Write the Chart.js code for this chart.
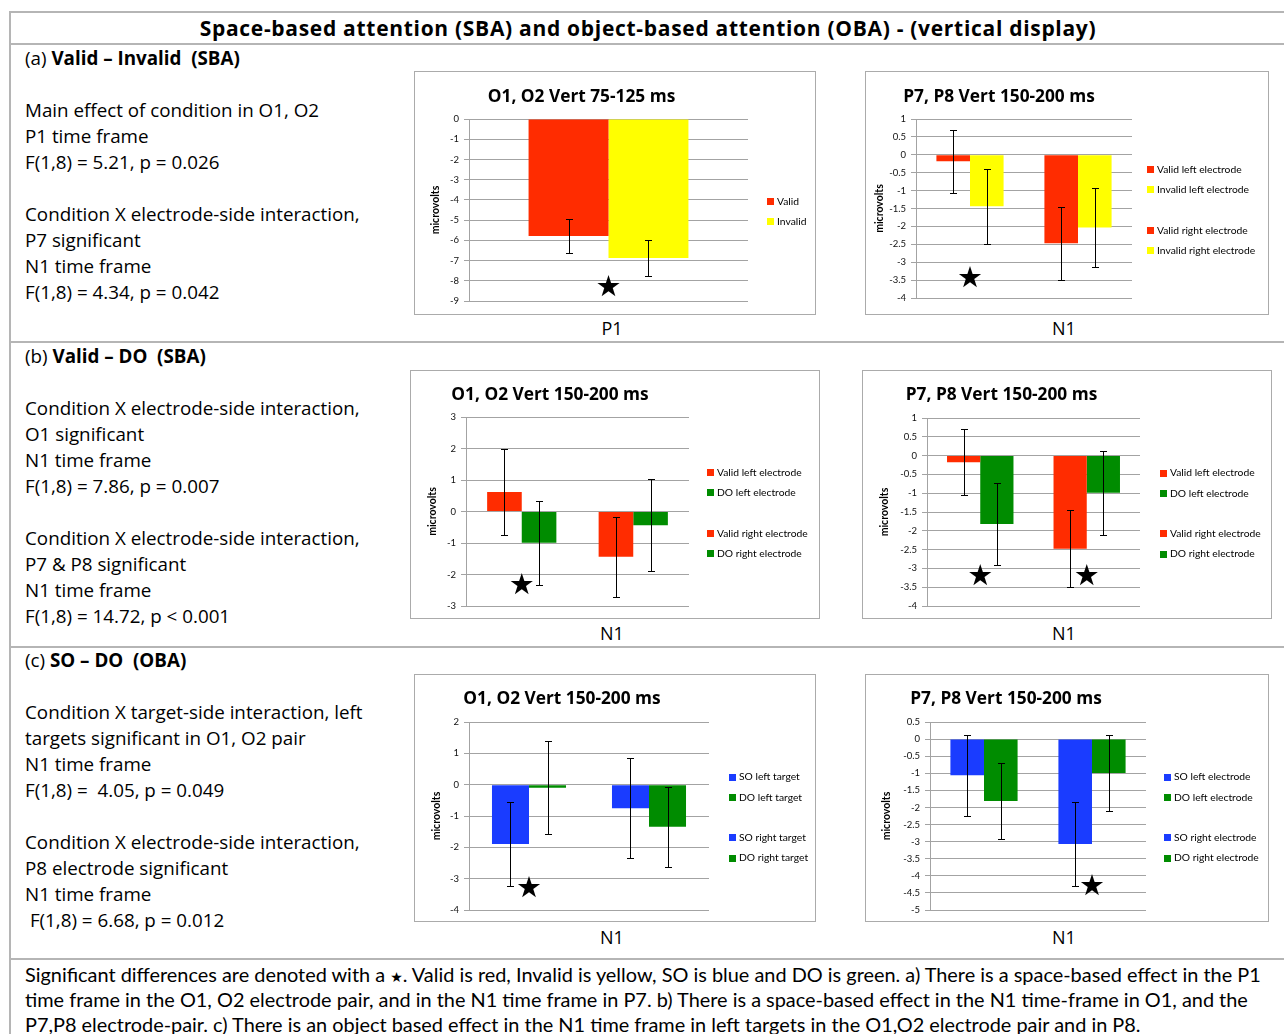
<!DOCTYPE html>
<html>
<head>
<meta charset="utf-8">
<title>Space-based and object-based attention</title>
<script src="https://cdn.jsdelivr.net/npm/chart.js@4.4.1/dist/chart.umd.min.js"></script>
<style>
  body { margin: 0; background: #fff; width: 1284px; height: 1034px; overflow: hidden; position: relative; font-family: "Open Sans", Lato, sans-serif; color: #000; }
  .rule { position: absolute; background: #b5b5b5; }
  .heading { position: absolute; left: 10px; width: 1276px; top: 14px; line-height: 28px; text-align: center; font-family: "Open Sans", sans-serif; font-weight: bold; font-size: 21px; letter-spacing: 0.7px; white-space: pre; }
  .txt { position: absolute; left: 25px; white-space: pre; font-size: 18.8px; line-height: 26px; }
  .caption { position: absolute; left: 25px; top: 962px; white-space: pre; font-family: Lato, sans-serif; font-size: 19.9px; line-height: 25px; }
  .caption .star { font-family: "DejaVu Sans", sans-serif; font-size: 14px; line-height: 0; }
  .box { position: absolute; border: 1px solid #ababab; box-sizing: border-box; }
  .box canvas { position: absolute; left: 0; top: 0; }
  .cat { position: absolute; font-size: 18px; line-height: 20px; transform: translateX(-50%); }
</style>
</head>
<body>
  <div class="rule" style="left:10px;top:11px;width:1274px;height:2px"></div>
  <div class="rule" style="left:10px;top:43px;width:1274px;height:2px"></div>
  <div class="rule" style="left:10px;top:341px;width:1274px;height:2px"></div>
  <div class="rule" style="left:10px;top:646px;width:1274px;height:2px"></div>
  <div class="rule" style="left:10px;top:958px;width:1274px;height:2px"></div>
  <div class="rule" style="left:9px;top:11px;width:2px;height:1023px"></div>

  <div class="heading">Space-based attention (SBA) and object-based attention (OBA) - (vertical display)</div>

  <div class="txt" style="top:45px">(a) <b>Valid – Invalid  (SBA)</b>

Main effect of condition in O1, O2
P1 time frame
F(1,8) = 5.21, p = 0.026

Condition X electrode-side interaction,
P7 significant
N1 time frame
F(1,8) = 4.34, p = 0.042</div>

  <div class="txt" style="top:343px">(b) <b>Valid – DO  (SBA)</b>

Condition X electrode-side interaction,
O1 significant
N1 time frame
F(1,8) = 7.86, p = 0.007

Condition X electrode-side interaction,
P7 &amp; P8 significant
N1 time frame
F(1,8) = 14.72, p &lt; 0.001</div>

  <div class="txt" style="top:647px">(c) <b>SO – DO  (OBA)</b>

Condition X target-side interaction, left
targets significant in O1, O2 pair
N1 time frame
F(1,8) =  4.05, p = 0.049

Condition X electrode-side interaction,
P8 electrode significant
N1 time frame
 F(1,8) = 6.68, p = 0.012</div>

  <div class="box" id="a1"><canvas></canvas></div>
  <div class="box" id="a2"><canvas></canvas></div>
  <div class="box" id="b1"><canvas></canvas></div>
  <div class="box" id="b2"><canvas></canvas></div>
  <div class="box" id="c1"><canvas></canvas></div>
  <div class="box" id="c2"><canvas></canvas></div>

  <div class="cat" style="left:612px;top:318px">P1</div>
  <div class="cat" style="left:1064px;top:318px">N1</div>
  <div class="cat" style="left:612px;top:623px">N1</div>
  <div class="cat" style="left:1064px;top:623px">N1</div>
  <div class="cat" style="left:612px;top:927px">N1</div>
  <div class="cat" style="left:1064px;top:927px">N1</div>

  <div class="caption">Significant differences are denoted with a <span class="star">★</span>. Valid is red, Invalid is yellow, SO is blue and DO is green. a) There is a space-based effect in the P1
time frame in the O1, O2 electrode pair, and in the N1 time frame in P7. b) There is a space-based effect in the N1 time-frame in O1, and the
P7,P8 electrode-pair. c) There is an object based effect in the N1 time frame in left targets in the O1,O2 electrode pair and in P8.</div>

<script>
// ---- Mean amplitudes (microvolts), standard errors, significance markers ----

// (a) Valid – Invalid, O1/O2 75-125 ms (P1)
const a1Title = 'O1, O2 Vert 75-125 ms';
const a1Cats = ['P1'];
const a1Series = ['Valid', 'Invalid'];
const a1Means = [-5.78, -6.87];
const a1Errors = [0.84, 0.90];
const a1Side = [0, 0];
const a1Stars = [[0, -8.4]];
const a1Axis = [-9, 0, 1];          // min, max, step

// (a) Valid – Invalid, P7/P8 150-200 ms (N1)
const a2Title = 'P7, P8 Vert 150-200 ms';
const a2Cats = ['left', 'right'];
const a2Series = ['Valid left electrode', 'Invalid left electrode', 'Valid right electrode', 'Invalid right electrode'];
const a2Means = [-0.18, -1.44, -2.47, -2.03];
const a2Errors = [0.88, 1.05, 1.02, 1.10];
const a2Side = [0, 0, 1, 1];
const a2Stars = [[0, -3.47]];
const a2Axis = [-4, 1, 0.5];

// (b) Valid – DO, O1/O2 150-200 ms (N1)
const b1Title = 'O1, O2 Vert 150-200 ms';
const b1Cats = ['left', 'right'];
const b1Series = ['Valid left electrode', 'DO left electrode', 'Valid right electrode', 'DO right electrode'];
const b1Means = [0.62, -0.99, -1.44, -0.44];
const b1Errors = [1.37, 1.33, 1.26, 1.46];
const b1Side = [0, 0, 1, 1];
const b1Stars = [[0, -2.37]];
const b1Axis = [-3, 3, 1];

// (b) Valid – DO, P7/P8 150-200 ms (N1)
const b2Title = 'P7, P8 Vert 150-200 ms';
const b2Cats = ['left', 'right'];
const b2Series = ['Valid left electrode', 'DO left electrode', 'Valid right electrode', 'DO right electrode'];
const b2Means = [-0.18, -1.82, -2.48, -0.99];
const b2Errors = [0.88, 1.10, 1.02, 1.11];
const b2Side = [0, 0, 1, 1];
const b2Stars = [[0, -3.23], [1, -3.23]];
const b2Axis = [-4, 1, 0.5];

// (c) SO – DO, O1/O2 150-200 ms (N1)
const c1Title = 'O1, O2 Vert 150-200 ms';
const c1Cats = ['left', 'right'];
const c1Series = ['SO left target', 'DO left target', 'SO right target', 'DO right target'];
const c1Means = [-1.89, -0.10, -0.75, -1.34];
const c1Errors = [1.35, 1.49, 1.59, 1.28];
const c1Side = [0, 0, 1, 1];
const c1Stars = [[0, -3.36]];
const c1Axis = [-4, 2, 1];

// (c) SO – DO, P7/P8 150-200 ms (N1)
const c2Title = 'P7, P8 Vert 150-200 ms';
const c2Cats = ['left', 'right'];
const c2Series = ['SO left electrode', 'DO left electrode', 'SO right electrode', 'DO right electrode'];
const c2Means = [-1.06, -1.81, -3.07, -0.99];
const c2Errors = [1.18, 1.10, 1.22, 1.10];
const c2Side = [0, 0, 1, 1];
const c2Stars = [[1, -4.33]];
const c2Axis = [-5, 0.5, 0.5];

// ---- Styling ----
const CONDITION_COLORS = { Valid: '#ff2c00', Invalid: '#ffff00', DO: '#008c00', SO: '#1a3cff' };
const GRID = '#a3a3a3';
const colorFor = name => CONDITION_COLORS[name.split(' ')[0]];

// Error bars, significance stars and the side legend
const panelExtras = {
  id: 'panelExtras',
  afterDatasetsDraw(chart, args, opts) {
    const { ctx, chartArea: ca } = chart;
    const x = chart.scales.x, y = chart.scales.y;
    ctx.save();

    // error bars (mean ± SE)
    ctx.strokeStyle = '#000';
    ctx.lineWidth = 1;
    chart.data.datasets.forEach((ds, i) => {
      const meta = chart.getDatasetMeta(i);
      ds.data.forEach((v, j) => {
        if (v === null) return;
        const e = ds.errorBars[j];
        const px = Math.round(meta.data[j].x) + 0.5;
        const hi = Math.round(y.getPixelForValue(v + e)) + 0.5;
        const lo = Math.round(y.getPixelForValue(v - e)) + 0.5;
        ctx.beginPath();
        ctx.moveTo(px, hi); ctx.lineTo(px, lo);
        ctx.moveTo(px - 3.5, hi); ctx.lineTo(px + 3.5, hi);
        ctx.moveTo(px - 3.5, lo); ctx.lineTo(px + 3.5, lo);
        ctx.stroke();
      });
    });

    // significance stars
    ctx.fillStyle = '#000';
    ctx.font = '29px "DejaVu Sans"';
    ctx.textAlign = 'center';
    ctx.textBaseline = 'middle';
    opts.stars.forEach(([c, v]) => {
      ctx.fillText('★', x.getPixelForValue(c), y.getPixelForValue(v));
    });

    // legend: left-side series, a blank row, right-side series
    const items = chart.data.datasets.map(ds => ({ text: ds.label, color: ds.backgroundColor }));
    if (items.length === 4) items.splice(2, 0, null);
    const step = 20.25;
    let ly = (ca.top + ca.bottom) / 2 + 1 - (items.length - 1) / 2 * step;
    const lx = ca.right + opts.legendDx;
    ctx.font = '10.3px Lato';
    ctx.textAlign = 'left';
    items.forEach(it => {
      if (it) {
        ctx.fillStyle = it.color;
        ctx.fillRect(lx, Math.round(ly) - 3, 7, 7);
        ctx.fillStyle = '#000';
        ctx.fillText(it.text, lx + 10, ly + 0.5);
      }
      ly += step;
    });
    ctx.restore();
  }
};

function drawPanel(id, spec, place) {
  const [bx, by, bw, bh] = place.box;
  const box = document.getElementById(id);
  Object.assign(box.style, { left: bx + 'px', top: by + 'px', width: bw + 'px', height: bh + 'px' });
  const W = bw - 2, H = bh - 2, ox = bx + 1, oy = by + 1;
  const cv = box.querySelector('canvas');
  cv.width = W; cv.height = H;

  const pl = place.plot[0] - ox, pt = place.plot[1] - oy;
  const pr = place.plot[2] - ox, pb = place.plot[3] - oy;
  const titleSize = 17.3, titleLH = titleSize * 1.2;
  const titlePadTop = place.titleY - oy - titleLH / 2;
  const axisSize = 10.5, axisLH = axisSize * 1.2;

  const datasets = spec.series.map((name, k) => ({
    label: name,
    data: spec.cats.map((c, j) => (j === spec.side[k] ? spec.means[k] : null)),
    errorBars: spec.cats.map((c, j) => (j === spec.side[k] ? spec.errors[k] : null)),
    backgroundColor: colorFor(name),
    borderWidth: 0,
    skipNull: true,
    categoryPercentage: place.catPct,
    barPercentage: 1
  }));

  new Chart(cv, {
    type: 'bar',
    data: { labels: spec.cats, datasets },
    options: {
      responsive: false,
      animation: false,
      devicePixelRatio: 1,
      events: [],
      layout: { padding: { left: 0, top: 0, right: W - pr, bottom: H - pb } },
      plugins: {
        legend: { display: false },
        tooltip: { enabled: false },
        title: {
          display: true,
          text: spec.title,
          color: '#000',
          font: { family: 'Open Sans', weight: 'bold', size: titleSize, lineHeight: 1.2 },
          padding: { top: titlePadTop, bottom: pt - titlePadTop - titleLH }
        },
        panelExtras: { stars: spec.stars, legendDx: place.legendDx }
      },
      scales: {
        x: { display: false },
        y: {
          min: spec.axis[0],
          max: spec.axis[1],
          ticks: {
            stepSize: spec.axis[2],
            callback: v => String(Math.round(v * 10) / 10),
            color: '#111',
            font: { family: 'Lato', size: 9.5 },
            padding: 5
          },
          grid: { color: GRID, lineWidth: 1, tickLength: 5 },
          border: { color: GRID, width: 1 },
          title: {
            display: true,
            text: 'microvolts',
            color: '#000',
            font: { family: 'Lato', weight: 'bold', size: axisSize, lineHeight: 1.2 },
            padding: { top: place.axisX - ox - axisLH / 2, bottom: 0 }
          },
          afterFit: s => { s.width = pl; }
        }
      }
    },
    plugins: [panelExtras]
  });
}

const panels = [
  ['a1', { title: a1Title, cats: a1Cats, series: a1Series, means: a1Means, errors: a1Errors, side: a1Side, stars: a1Stars, axis: a1Axis },
         { box: [414, 71, 402, 244], plot: [469, 119, 748, 301], titleY: 97, axisX: 436, legendDx: 19, catPct: 0.573 }],
  ['a2', { title: a2Title, cats: a2Cats, series: a2Series, means: a2Means, errors: a2Errors, side: a2Side, stars: a2Stars, axis: a2Axis },
         { box: [865, 71, 404, 244], plot: [916, 119, 1132, 298], titleY: 97, axisX: 880, legendDx: 15, catPct: 0.622 }],
  ['b1', { title: b1Title, cats: b1Cats, series: b1Series, means: b1Means, errors: b1Errors, side: b1Side, stars: b1Stars, axis: b1Axis },
         { box: [410, 370, 410, 249], plot: [466, 417, 689, 606], titleY: 395, axisX: 433, legendDx: 18, catPct: 0.621 }],
  ['b2', { title: b2Title, cats: b2Cats, series: b2Series, means: b2Means, errors: b2Errors, side: b2Side, stars: b2Stars, axis: b2Axis },
         { box: [862, 370, 410, 249], plot: [927, 418, 1140, 606], titleY: 395, axisX: 885, legendDx: 20, catPct: 0.624 }],
  ['c1', { title: c1Title, cats: c1Cats, series: c1Series, means: c1Means, errors: c1Errors, side: c1Side, stars: c1Stars, axis: c1Axis },
         { box: [414, 674, 402, 248], plot: [469, 722, 709, 910], titleY: 699, axisX: 437, legendDx: 20, catPct: 0.617 }],
  ['c2', { title: c2Title, cats: c2Cats, series: c2Series, means: c2Means, errors: c2Errors, side: c2Side, stars: c2Stars, axis: c2Axis },
         { box: [865, 674, 404, 248], plot: [930, 722, 1146, 910], titleY: 699, axisX: 887, legendDx: 18, catPct: 0.622 }]
];

panels.forEach(([id, spec, place]) => drawPanel(id, spec, place));
</script>
</body>
</html>
